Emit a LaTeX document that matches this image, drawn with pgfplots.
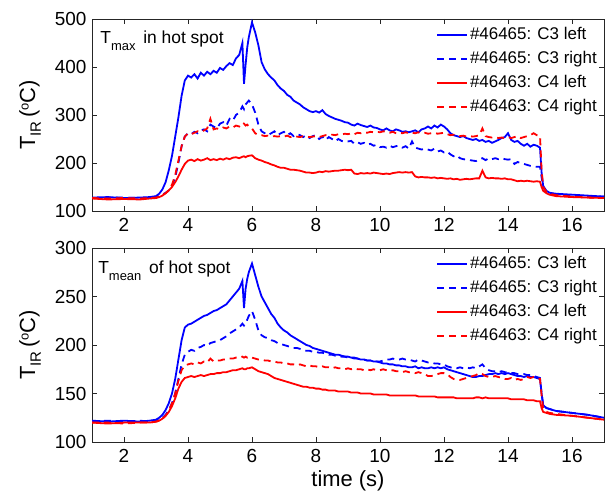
\documentclass[border=0pt]{standalone}
\usepackage{fontspec}
\setmainfont{Liberation Sans}
\usepackage{pgfplots}
\usepackage{pgfplotstable}
\pgfplotsset{compat=1.18}

\pgfplotstableread{
x A B C D
1.0 128 127 126 127
1.5 129 128 124 126
2.0 127 128 125 127
2.5 128 127 124 126
2.8 129 128 126 127
3.0 131 129 127 128
3.1 136 131 129 130
3.2 145 134 132 133
3.3 160 138 137 137
3.4 185 143 143 143
3.5 215 152 150 155
3.6 255 170 160 175
3.7 295 200 172 205
3.8 340 235 186 235
3.9 372 255 198 255
4.0 382 262 205 262
4.1 378 260 207 260
4.2 385 265 204 263
4.3 376 262 208 266
4.4 388 268 205 264
4.5 382 270 207 268
4.6 390 266 210 272
4.7 385 280 206 292
4.8 392 276 208 270
4.9 388 272 206 272
5.0 398 282 209 270
5.1 394 285 207 274
5.2 402 278 210 272
5.3 408 292 208 276
5.4 404 288 211 274
5.5 418 300 212 278
5.6 425 305 210 276
5.7 450 318 213 284
5.75 365 312 214 282
5.8 405 322 212 278
5.85 440 326 214 280
5.9 462 330 215 276
6.0 493 322 216 272
6.1 472 305 210 262
6.2 445 280 207 258
6.3 410 266 205 258
6.4 395 262 202 256
6.5 385 258 200 257
6.6 378 262 197 255
6.7 372 266 195 256
6.8 362 258 192 255
6.9 355 262 190 256
7.0 350 265 190 255
7.1 342 258 188 257
7.2 338 262 186 254
7.3 330 256 186 256
7.4 326 260 185 255
7.5 322 258 184 254
7.6 316 254 182 256
7.7 312 258 180 255
7.8 308 252 180 254
7.9 306 256 179 255
8.0 308 258 180 256
8.1 305 250 182 254
8.2 310 255 181 256
8.3 302 248 183 258
8.4 298 254 182 257
8.5 295 250 183 259
8.6 292 245 184 258
8.7 290 250 184 260
8.8 288 246 185 259
8.9 285 244 186 261
9.0 284 245 185 260
9.1 280 246 186 262
9.2 278 240 178 260
9.3 282 243 177 263
9.4 279 240 179 262
9.5 277 242 178 264
9.6 275 238 179 263
9.7 278 240 178 265
9.8 274 236 180 264
9.9 273 238 179 265
10.0 270 233 178 264
10.1 268 234 177 266
10.2 272 232 178 265
10.3 268 236 177 263
10.4 266 233 179 265
10.5 270 235 180 262
10.6 268 236 181 263
10.7 265 232 180 262
10.8 266 235 181 264
10.9 264 230 180 262
11.0 266 245 181 263
11.1 268 232 172 262
11.2 264 230 170 264
11.3 270 228 171 262
11.4 272 230 170 263
11.5 276 228 170 261
11.6 272 226 169 262
11.7 278 230 170 263
11.8 274 224 168 261
11.9 280 226 169 262
12.0 276 222 168 263
12.1 270 224 167 260
12.2 262 218 168 258
12.3 258 214 166 259
12.4 256 216 167 257
12.5 254 210 165 256
12.6 256 208 166 257
12.7 252 207 167 255
12.8 250 206 166 256
12.9 248 205 167 255
13.0 250 204 168 256
13.1 246 208 168 258
13.2 248 210 184 272
13.3 244 206 170 256
13.4 246 210 168 254
13.5 242 208 169 253
13.6 245 210 168 254
13.7 248 208 168 252
13.8 252 210 167 253
13.9 254 208 168 252
14.0 262 207 166 254
14.1 248 208 166 252
14.2 244 198 164 254
14.3 246 202 162 256
14.4 240 200 163 252
14.5 236 198 162 254
14.6 240 196 163 256
14.7 234 194 162 258
14.8 238 193 161 262
14.9 236 192 162 258
15.0 232 192 161 256
15.05 180 170 150 185
15.1 152 150 142 150
15.2 142 140 137 140
15.3 138 136 134 136
15.5 136 134 131 133
16.0 134 133 129 130
16.5 132 131 128 128
17.0 130 130 127 127
}\tmax

\pgfplotstableread{
x A B C D
1.0 122 121 120 120
1.5 121 122 119 120
2.0 122 121 120 119
2.5 121 122 120 120
2.8 122 121 120 120
3.0 123 122 121 121
3.1 125 123 122 122
3.2 128 125 124 124
3.3 133 128 127 127
3.4 140 133 131 132
3.5 150 140 137 140
3.6 165 150 145 150
3.7 185 165 155 163
3.8 205 180 162 174
3.9 218 190 166 179
4.0 221 193 167 180
4.1 222 195 168 181
4.2 224 194 167 180
4.3 226 197 168 182
4.4 228 198 169 181
4.5 230 200 168 183
4.6 231 199 169 182
4.7 233 202 170 186
4.8 235 203 170 183
4.9 236 204 171 184
5.0 238 205 171 184
5.1 240 207 172 185
5.2 242 209 172 185
5.3 246 212 173 186
5.4 250 214 174 186
5.5 254 216 174 187
5.6 258 218 175 187
5.7 266 222 176 188
5.75 238 220 175 187
5.8 258 222 175 188
5.85 268 226 176 187
5.9 275 230 176 188
6.0 284 235 177 187
6.1 272 226 175 186
6.2 260 215 173 185
6.3 250 210 172 185
6.4 244 208 171 184
6.5 238 207 170 184
6.6 232 205 168 183
6.7 228 204 166 183
6.8 222 202 165 182
6.9 218 201 164 182
7.0 215 200 163 181
7.1 213 199 162 181
7.2 210 198 161 180
7.3 208 197 160 180
7.4 206 197 159 179
7.5 204 196 158 180
7.6 202 195 157 179
7.7 200 194 157 178
7.8 199 194 156 179
7.9 197 193 156 178
8.0 196 193 155 178
8.1 195 192 155 177
8.2 194 192 154 178
8.3 193 191 154 177
8.4 192 190 153 177
8.5 191 190 153 176
8.6 190 189 153 177
8.7 190 189 152 176
8.8 189 188 152 176
8.9 188 188 152 175
9.0 188 187 152 176
9.1 187 187 151 175
9.2 187 186 151 176
9.3 186 186 151 175
9.4 185 185 150 175
9.5 185 185 150 174
9.6 184 184 150 175
9.7 184 184 150 174
9.8 183 183 149 175
9.9 183 183 149 174
10.0 182 183 149 174
10.1 181 184 149 175
10.2 181 185 149 174
10.3 180 185 148 173
10.4 180 186 148 174
10.5 179 185 148 173
10.6 179 185 148 173
10.7 178 186 148 172
10.8 178 185 148 173
10.9 177 185 148 172
11.0 177 184 148 172
11.1 178 183 148 171
11.2 176 185 147 172
11.3 177 184 147 171
11.4 176 183 147 170
11.5 176 182 147 168
11.6 177 182 147 168
11.7 176 181 147 169
11.8 177 181 146 170
11.9 176 180 146 171
12.0 177 180 146 171
12.1 175 178 146 170
12.2 174 177 146 167
12.3 173 176 146 165
12.4 172 176 145 164
12.5 171 177 145 164
12.6 170 176 145 165
12.7 169 177 145 166
12.8 168 176 145 167
12.9 167 177 145 168
13.0 167 176 146 169
13.1 168 178 146 171
13.2 168 180 145 170
13.3 169 176 146 168
13.4 170 174 145 167
13.5 170 173 145 167
13.6 171 173 145 168
13.7 170 172 145 167
13.8 171 173 145 166
13.9 170 172 145 165
14.0 171 172 145 165
14.1 170 171 144 166
14.2 169 171 144 164
14.3 168 170 144 165
14.4 168 170 144 164
14.5 167 170 144 165
14.6 168 169 143 167
14.7 167 169 143 166
14.8 167 168 143 167
14.9 166 167 142 166
15.0 165 166 142 165
15.05 150 150 135 148
15.1 138 138 131 134
15.2 135 135 130 131
15.3 134 134 129 130
15.5 132 132 128 129
16.0 130 130 127 127
16.5 128 128 125 125
17.0 125 125 123 123
}\tmean

\pgfplotsset{
  mystyle/.style={
    scale only axis, width=512bp,
    xmin=1, xmax=17,
    xtick={2,4,...,16},
    tick align=inside, major tick length=5bp,
    axis line style={line width=0.7bp, black!85},
    every tick/.style={line width=0.7bp, black!85},
    /pgf/number format/assume math mode=true,
    tick label style={font=\fontsize{19}{19}\selectfont},
    xticklabel style={yshift=-4bp},
    yticklabel style={xshift=-2bp},
    ylabel={T\raisebox{-0.5ex}{\fontsize{15}{15}\selectfont IR}\,(\raisebox{0.55ex}{\fontsize{13}{13}\selectfont o}C)},
    ylabel style={font=\fontsize{22}{22}\selectfont, at={(axis description cs:-0.121,0.5)}, anchor=center},
    legend style={at={(rel axis cs:1,1)}, anchor=north east, xshift=-5bp, yshift=-4bp,
      draw=none, fill=none, inner sep=0pt, row sep=0.5bp,
      font=\fontsize{17}{17}\selectfont,
      nodes={text height=12bp, text depth=3.5bp, inner ysep=4bp, inner xsep=2bp}},
    legend cell align=left,
    legend image code/.code={\draw[#1] (0bp,0bp) -- (30bp,0bp);},
    every axis plot/.append style={line width=1.8bp},
  },
  dsh/.style={dash pattern=on 7bp off 5bp},
}

\begin{document}
\begin{tikzpicture}
\useasboundingbox (0,0) rectangle (605bp,495bp);
\begin{axis}[mystyle, at={(92bp,284bp)}, anchor=south west, height=192bp,
  ymin=100, ymax=500, ytick={100,200,300,400,500}]
\addplot[blue] table[x=x,y=A] {\tmax};
\addplot[blue,dsh] table[x=x,y=B] {\tmax};
\addplot[red] table[x=x,y=C] {\tmax};
\addplot[red,dsh] table[x=x,y=D] {\tmax};
\legend{\#46465: C3 left,\#46465: C3 right,\#46463: C4 left,\#46463: C4 right}
\node[anchor=north west, inner sep=0pt, font=\fontsize{17.5}{17.5}\selectfont] at (rel axis cs:0.016,0.9375)
  {T\raisebox{-0.75ex}{\fontsize{13}{13}\selectfont max}\, in hot spot};
\end{axis}
\begin{axis}[mystyle, at={(92bp,53bp)}, anchor=south west, height=194bp,
  ymin=100, ymax=300, ytick={100,150,200,250,300},
  xlabel={time (s)},
  xlabel style={font=\fontsize{22}{22}\selectfont, at={(axis description cs:0.5,-0.2)}, anchor=center}]
\addplot[blue] table[x=x,y=A] {\tmean};
\addplot[blue,dsh] table[x=x,y=B] {\tmean};
\addplot[red] table[x=x,y=C] {\tmean};
\addplot[red,dsh] table[x=x,y=D] {\tmean};
\legend{\#46465: C3 left,\#46465: C3 right,\#46463: C4 left,\#46463: C4 right}
\node[anchor=north west, inner sep=0pt, font=\fontsize{17.5}{17.5}\selectfont] at (rel axis cs:0.012,0.935)
  {T\raisebox{-0.75ex}{\fontsize{13}{13}\selectfont mean}\, of hot spot};
\end{axis}
\end{tikzpicture}
\end{document}
